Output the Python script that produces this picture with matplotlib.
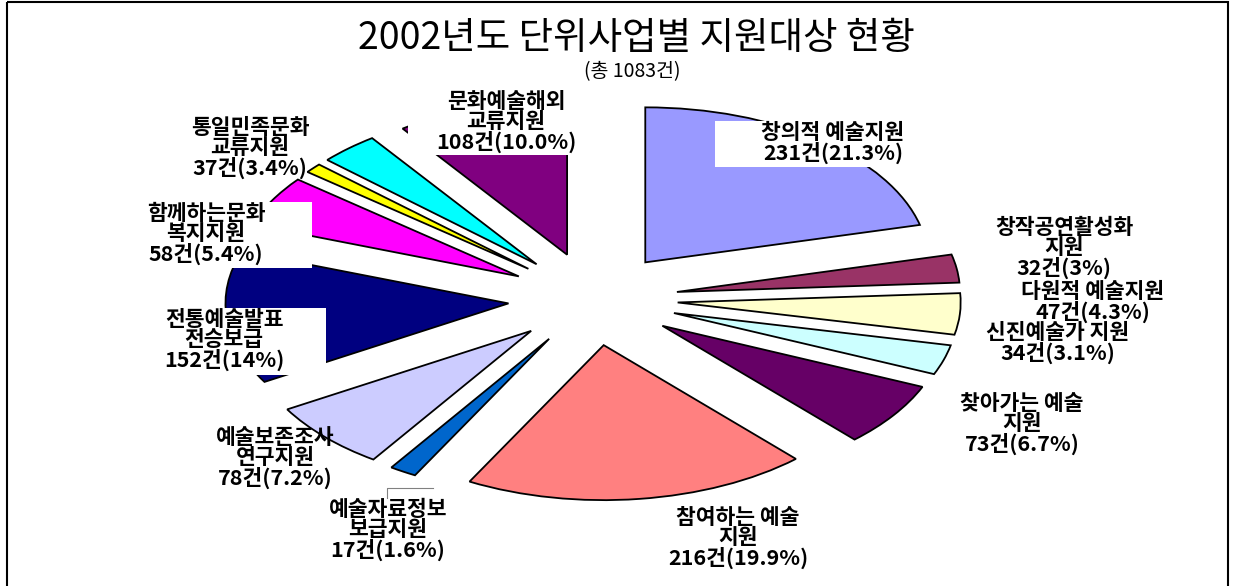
import matplotlib
matplotlib.use("Agg")
import matplotlib.pyplot as plt
from matplotlib.patches import Rectangle
from matplotlib.transforms import Affine2D

plt.rcParams['font.family'] = ['Noto Sans CJK KR', 'DejaVu Sans']

# slices clockwise from 12 o'clock
names = ["창의적 예술지원", "창작공연활성화\n지원", "다원적 예술지원", "신진예술가 지원",
         "찾아가는 예술\n지원", "참여하는 예술\n지원", "예술자료정보\n보급지원",
         "예술보존조사\n연구지원", "전통예술발표\n전승보급", "함께하는문화\n복지지원",
         "", "통일민족문화\n교류지원", "문화예술해외\n교류지원"]
counts = [231, 32, 47, 34, 73, 216, 17, 78, 152, 58, 11, 37, 108]
pcts = ["21.3%", "3%", "4.3%", "3.1%", "6.7%", "19.9%", "1.6%", "7.2%", "14%", "5.4%",
        "", "3.4%", "10.0%"]
colors = ["#9999FF", "#993366", "#FFFFCC", "#CCFFFF", "#660066", "#FF8080", "#0066CC",
          "#CCCCFF", "#000080", "#FF00FF", "#FFFF00", "#00FFFF", "#800080"]

# label placement (pixel coords) and size of the white box behind some labels
label_pos = [(833, 143), (1064, 248), (1093, 302), (1058, 343), (1022, 424), (738, 538),
             (388, 530), (275, 458), (224, 340), (206, 234), None, (250, 148), (506, 122)]
label_box = [(236, 46), None, None, None, None, None, None, None, (203, 67), (212, 66),
             None, None, (196, 64)]

W, H = 1236, 586
fig = plt.figure(figsize=(W / 100, H / 100), dpi=100)
ax = fig.add_axes([0, 0, 1, 1])

wedges, _ = ax.pie(counts, colors=colors, startangle=-90, counterclock=True,
                   explode=[0.30] * len(counts),
                   wedgeprops=dict(edgecolor="black", linewidth=1.3))

# the picture is stretched sideways: pie radius 283 px across, 155 px tall
cx, cy, rx, ry = 593, 299, 283, 155
pie_tr = Affine2D().scale(rx, ry).translate(cx, cy) + ax.transData
for w in wedges:
    w.set_transform(pie_tr)

ax.set_aspect("auto")
ax.set_xlim(0, W)
ax.set_ylim(H, 0)
ax.axis("off")

for name, n, p, pos, box in zip(names, counts, pcts, label_pos, label_box):
    if pos is None:
        continue
    if box is not None:
        bw, bh = box
        ax.add_patch(Rectangle((pos[0] - bw / 2, pos[1] - bh / 2 + 1), bw, bh,
                               facecolor="white", edgecolor="none", zorder=3))
    ax.text(pos[0], pos[1], f"{name}\n{n}건({p})", ha="center", va="center",
            multialignment="center", fontsize=15.5, fontweight="bold",
            linespacing=0.95, zorder=4)

# leader line for the small blue slice
ax.plot([387, 387, 433], [498, 488, 488], color="gray", lw=0.8)

ax.text(636, 39, "2002년도 단위사업별 지원대상 현황", ha="center", va="center", fontsize=27)
ax.text(632, 72, "(총 1083건)", ha="center", va="center", fontsize=14)

ax.add_patch(Rectangle((7, 2), 1221, 620, fill=False, edgecolor="black", lw=1.5))

fig.savefig("out.png", dpi=100)
